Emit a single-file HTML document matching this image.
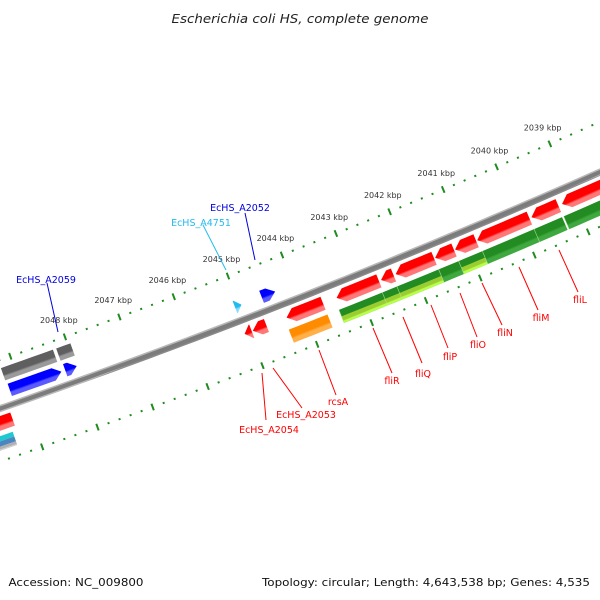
<!DOCTYPE html>
<html><head><meta charset="utf-8"><title>Escherichia coli HS genome map</title>
<style>
html,body{margin:0;padding:0;background:#fff;}
svg{display:block;font-family:"DejaVu Sans","Liberation Sans",sans-serif;}
</style></head>
<body>
<svg id="map" width="600" height="600" viewBox="0 0 600 600" xmlns="http://www.w3.org/2000/svg">
<defs id="defs"></defs>
<rect x="0" y="0" width="600" height="600" fill="#fff"/>
<text x="300" y="23" text-anchor="middle" font-size="12" font-style="italic" fill="#222" textLength="257" lengthAdjust="spacingAndGlyphs">Escherichia coli HS, complete genome</text>
<g id="ticks"></g>
<g id="backbone"></g>
<g id="features"></g>
<g id="labels"></g>
<text x="8.5" y="586" font-size="11" fill="#111" textLength="135" lengthAdjust="spacingAndGlyphs">Accession: NC_009800</text>
<text x="262" y="586" font-size="11" fill="#111" textLength="328" lengthAdjust="spacingAndGlyphs">Topology: circular; Length: 4,643,538 bp; Genes: 4,535</text>
</svg>
<script>
// ---- data (kbp) ----
const tickLabelKbp = [2039,2040,2041,2042,2043,2044,2045,2046,2047,2048];
const redGenes = [[2051.0,2049.32],[2045.09,2044.96],[2044.94,2044.69],[2044.32,2043.65],[2043.40,2042.62],[2042.58,2042.35],[2042.31,2041.60],[2041.58,2041.23],[2041.21,2040.82],[2040.80,2039.83],[2039.79,2039.29],[2039.22,2036.5]];
const greenCogs = [[2043.44,2042.64],[2042.64,2042.37],[2042.37,2041.60],[2041.60,2041.23],[2041.23,2040.79],[2040.79,2039.83],[2039.83,2039.31],[2039.28,2036.5]];
const lightGreenCogs = [[2043.44,2041.60],[2041.23,2040.79]];
const orangeCogs = [[2044.36,2043.65]];
const grayGenes = [[2049.22,2048.27],[2048.21,2047.95]];
const blueGenes = [[2049.20,2048.26],[2048.19,2047.98],[2044.59,2044.34]];
const cyanGenes = [[2045.08,2044.96]];
const cyanStack = [[2051.0,2049.39]];

// ---- geometry ----
const CX=-2632, CY=-7146, K0=2048, PHI0=70.18, DPK=0.4178;
const NS="http://www.w3.org/2000/svg";
function pt(k,r){const a=(PHI0-(K0-k)*DPK)*Math.PI/180;return [CX+r*Math.cos(a),CY+r*Math.sin(a)];}
function el(tag,attrs,parent){const e=document.createElementNS(NS,tag);for(const a in attrs)e.setAttribute(a,attrs[a]);parent.appendChild(e);return e;}
function arc(k1,k2,r){const n=Math.max(2,Math.ceil(Math.abs(k1-k2)/0.2));const out=[];for(let i=0;i<=n;i++){out.push(pt(k1+(k2-k1)*i/n,r));}return out;}
function slab(k1,k2,r1,r2,dir){
  const rm=(r1+r2)/2;let hk=Math.min(0.14,(k1-k2)*0.9);let pts=[];
  if(dir==='L'){pts.push(pt(k1,rm));pts=pts.concat(arc(k1-hk,k2,r1));pts=pts.concat(arc(k2,k1-hk,r2));}
  else if(dir==='R'){pts=pts.concat(arc(k1,k2+hk,r1));pts.push(pt(k2,rm));pts=pts.concat(arc(k2+hk,k1,r2));}
  else{pts=pts.concat(arc(k1,k2,r1));pts=pts.concat(arc(k2,k1,r2));}
  return pts.map(p=>p[0].toFixed(2)+','+p[1].toFixed(2)).join(' ');
}
const defs=document.getElementById('defs');let gid=0;
function grad(k,r1,r2,c1,c2,split){
  const p1=pt(k,r1),p2=pt(k,r2);const id='g'+(gid++);
  const g=el('linearGradient',{id:id,gradientUnits:'userSpaceOnUse',x1:p1[0],y1:p1[1],x2:p2[0],y2:p2[1]},defs);
  el('stop',{offset:0,'stop-color':c1},g);el('stop',{offset:split,'stop-color':c1},g);
  el('stop',{offset:Math.min(1,split+0.15),'stop-color':c2},g);el('stop',{offset:1,'stop-color':c2},g);
  return 'url(#'+id+')';
}
function drawTrack(list,r1,r2,dir,c1,c2,name,parent){
  list.forEach(f=>{
    const fill=grad((f[0]+f[1])/2,r1,r2,c1,c2,0.55);
    const p=el('polygon',{points:slab(f[0],f[1],r1,r2,dir),fill:fill},parent);
    
    
  });
}

// ticks
const tg=document.getElementById('ticks');
[7954,8050].forEach((r,ri)=>{
  for(let i=20360;i<=20515;i+=2){
    const k=i/10;const major=(i%10===0);const h=major?3.5:1;
    const a=pt(k,r-h),b=pt(k,r+h);
    const t=el('line',{x1:a[0],y1:a[1],x2:b[0],y2:b[1],stroke:'#1e8c1e','stroke-width':2},tg);
    
    
  }
});
tickLabelKbp.forEach(k=>{
  const p=pt(k,7936);
  const t=el('text',{x:p[0],y:p[1]+3,'text-anchor':'middle','font-size':8,fill:'#333'},tg);
  t.textContent=k+' kbp';
  
  
});

// backbone
const bg=document.getElementById('backbone');
const bb=el('polygon',{points:slab(2051.5,2036,7996.5,8003.5,''),fill:grad(2043,7996.5,8003.5,'#b8b8b8','#8a8a8a',0.2)},bg);


const bb2=el('polygon',{points:slab(2051.5,2036,7998,8002,''),fill:'#7c7c7c'},bg);



// features
const fg=document.getElementById('features');
drawTrack(grayGenes,7962,7975,'','#5f5f5f','#9a9a9a','gray-gene',fg);
drawTrack(blueGenes,7979,7992,'R','#0000ff','#5a5aff','blue-gene',fg);
drawTrack(cyanGenes,7979,7992,'R','#22bbee','#88ddff','cyan-gene',fg);
drawTrack(redGenes,8007,8021,'L','#ff0000','#ff7777','red-gene',fg);
drawTrack(greenCogs,8026,8040,'','#228b22','#3fa83f','green-cog',fg);
drawTrack(lightGreenCogs,8033,8040,'','#9acd32','#b8ff4a','lightgreen-cog',fg);
drawTrack(orangeCogs,8026,8040,'','#ff8c00','#ffb04a','orange-cog',fg);
drawTrack(cyanStack,8026,8031,'','#20c8d0','#20c8d0','cyan-cog',fg);
drawTrack(cyanStack,8031,8036,'','#4a86c0','#4a86c0','steelblue-cog',fg);
drawTrack(cyanStack,8036,8040,'','#b0b0b0','#d0d0d0','gray-cog',fg);
// separators on green track
greenCogs.forEach(f=>{
  const a=pt(f[0],8026),b=pt(f[0],8040);
  const s=el('line',{x1:a[0],y1:a[1],x2:b[0],y2:b[1],stroke:'#b8e8a0','stroke-width':0.7,'stroke-opacity':0.7},fg);
  
  
});

// labels with leader lines (screen layout)
const labelText = ['EcHS_A2052','EcHS_A4751','EcHS_A2059','fliL','fliM','fliN','fliO','fliP','fliQ','fliR','rcsA','EcHS_A2053','EcHS_A2054'];
const labelColor = ['#0000dd','#22bbee','#0000dd','#ff0000','#ff0000','#ff0000','#ff0000','#ff0000','#ff0000','#ff0000','#ff0000','#ff0000','#ff0000'];
const labelLayout = [[240,208,245,213,255,260],[201,223,203,225,226,270],[46,280,47,283,58,332],[580,300,559,250,578,292],[541,318,519,267,538,310],[505,333,482,283,502,325],[478,345,460,293,477,337],[450,357,431,305,448,348],[423,374,403,317,422,363],[392,381,373,328,392,373],[338,402,319,350,336,395],[306,415,273,368,302,408],[269,430,262,373,266,420]];
const lg=document.getElementById('labels');
labelText.forEach((t,i)=>{
  const L=labelLayout[i];
  const ln=el('line',{x1:L[2],y1:L[3],x2:L[4],y2:L[5],stroke:labelColor[i],'stroke-width':1},lg);
  
  
  const tx=el('text',{x:L[0],y:L[1]+3,'text-anchor':'middle','font-size':9.5,fill:labelColor[i]},lg);
  tx.textContent=t;
  
  
});
</script>
</body></html>
